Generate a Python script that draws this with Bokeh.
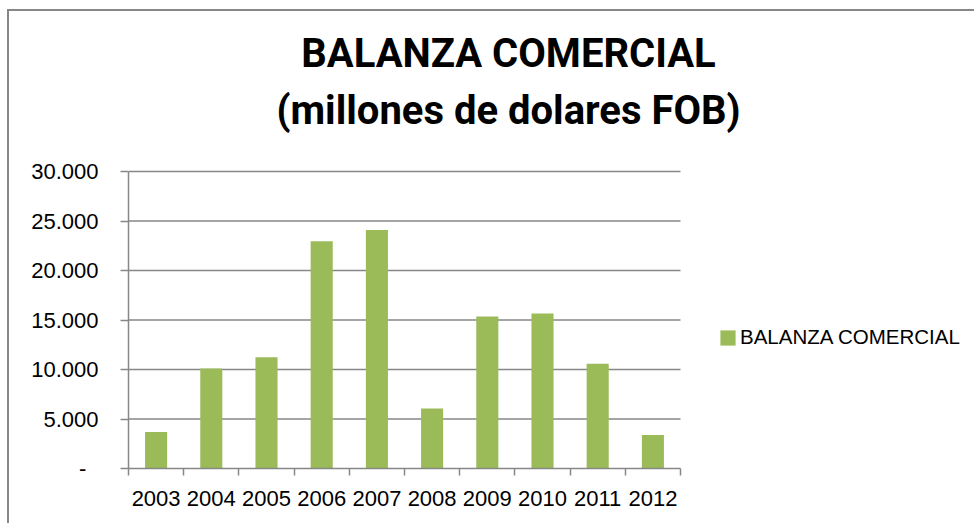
from bokeh.plotting import figure
from bokeh.models import Range1d, FixedTicker, Label, ColumnDataSource
from bokeh.embed import file_html
from bokeh.resources import INLINE

# ---- data ----
years = ["2003", "2004", "2005", "2006", "2007", "2008", "2009", "2010", "2011", "2012"]
balanza = [3690, 10110, 11250, 22950, 24090, 6050, 15350, 15650, 10590, 3390]
y_ticks = [0, 5000, 10000, 15000, 20000, 25000, 30000]
y_tick_labels = ["-\u00a0\u00a0", "5.000", "10.000", "15.000", "20.000", "25.000", "30.000"]
series_name = "BALANZA COMERCIAL"
title_line1 = "BALANZA COMERCIAL"
title_line2 = "(millones de dolares FOB)"

GREEN = "#9BBB59"
GREY = "#878787"
TICK_FONT = "Liberation Sans"
TITLE_FONT = "Roboto"

# ---- layout (pixels) ----
W, H = 967, 514            # canvas size
LEFT, BOTTOM = 119, 57     # space for the axes
PLOT_W, PLOT_H = 552, 297  # size of the bar area inside the frame
FRAME_W, FRAME_H = W - LEFT, H - BOTTOM

n = len(years)
y_max = y_ticks[-1]
x_end = n * FRAME_W / PLOT_W
y_end = y_max * FRAME_H / PLOT_H

centers = [i + 0.5 for i in range(n)]
bounds = [float(i) for i in range(n + 1)]
source = ColumnDataSource(dict(x=centers, top=balanza, year=years))
grid_src = ColumnDataSource(dict(y=y_ticks[1:]))

p = figure(width=W, height=H, output_backend="svg", toolbar_location=None,
           x_range=Range1d(0, x_end), y_range=Range1d(0, y_end),
           min_border_left=LEFT, min_border_right=0, min_border_top=0,
           min_border_bottom=BOTTOM)
p.styles = {"margin-left": "7px", "margin-top": "9px",
            "border-left": f"2px solid {GREY}", "border-top": f"2px solid {GREY}"}
p.outline_line_color = None
p.background_fill_color = "white"
p.border_fill_color = "white"
p.title.visible = False
p.xgrid.visible = False
p.ygrid.visible = False

# horizontal gridlines across the category span
p.segment(x0=0, x1=n, y0="y", y1="y", source=grid_src, line_color=GREY, line_width=1.5)

p.vbar(x="x", top="top", width=0.4, source=source, fill_color=GREEN,
       line_color=None, legend_label=series_name)

# x axis
xa = p.xaxis[0]
xa.bounds = (0, n)
xa.ticker = FixedTicker(ticks=centers, minor_ticks=bounds)
xa.major_label_overrides = {c: y for c, y in zip(centers, years)}
xa.major_tick_line_color = None
xa.major_tick_out = 0
xa.major_tick_in = 0
xa.minor_tick_in = 0
xa.minor_tick_out = 7
xa.minor_tick_line_color = GREY
xa.minor_tick_line_width = 1.5
xa.axis_line_color = GREY
xa.axis_line_width = 1.5
xa.major_label_standoff = 15
xa.major_label_text_font = TICK_FONT
xa.major_label_text_font_size = "22px"
xa.major_label_text_color = "black"

# y axis
ya = p.yaxis[0]
ya.bounds = (0, y_max)
ya.ticker = FixedTicker(ticks=y_ticks, minor_ticks=[])
ya.major_label_overrides = {t: l for t, l in zip(y_ticks, y_tick_labels)}
ya.major_tick_in = 0
ya.major_tick_out = 8
ya.major_tick_line_color = GREY
ya.major_tick_line_width = 1.5
ya.minor_tick_line_color = None
ya.axis_line_color = GREY
ya.axis_line_width = 1.5
ya.major_label_standoff = 22
ya.major_label_text_font = TICK_FONT
ya.major_label_text_font_size = "22px"
ya.major_label_text_color = "black"

# title (two lines)
for txt, yy in ((title_line1, 415), (title_line2, 358)):
    p.add_layout(Label(x=380, y=yy, x_units="screen", y_units="screen", text=txt,
                       text_align="center", text_baseline="alphabetic",
                       text_font=TITLE_FONT, text_font_style="bold",
                       text_font_size="40px", text_color="black"))

# legend
lg = p.legend[0]
lg.location = (590, 119)
lg.border_line_color = None
lg.background_fill_alpha = 0
lg.padding = 0
lg.margin = 0
lg.spacing = 0
lg.glyph_width = 19
lg.glyph_height = 19
lg.label_height = 19
lg.label_standoff = 3
lg.label_text_font = TICK_FONT
lg.label_text_font_size = "20.5px"
lg.label_text_color = "black"

open("out.html", "w").write(file_html(p, INLINE))
